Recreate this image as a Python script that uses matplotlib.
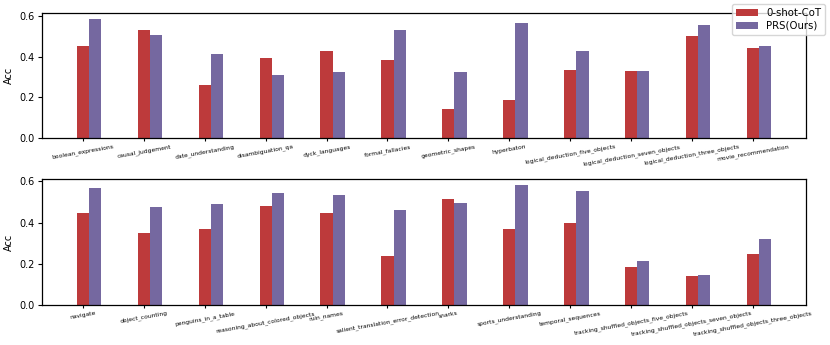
import matplotlib
matplotlib.use("Agg")
import matplotlib.pyplot as plt
import numpy as np

tasks_top = ["boolean_expressions", "causal_judgement", "date_understanding", "disambiguation_qa",
             "dyck_languages", "formal_fallacies", "geometric_shapes", "hyperbaton",
             "logical_deduction_five_objects", "logical_deduction_seven_objects",
             "logical_deduction_three_objects", "movie_recommendation"]
cot_top = [0.452, 0.530, 0.263, 0.391, 0.428, 0.384, 0.143, 0.187, 0.336, 0.331, 0.500, 0.443]
prs_top = [0.584, 0.508, 0.415, 0.308, 0.323, 0.532, 0.324, 0.565, 0.430, 0.328, 0.555, 0.454]

tasks_bot = ["navigate", "object_counting", "penguins_in_a_table", "reasoning_about_colored_objects",
             "ruin_names", "salient_translation_error_detection", "snarks", "sports_understanding",
             "temporal_sequences", "tracking_shuffled_objects_five_objects",
             "tracking_shuffled_objects_seven_objects", "tracking_shuffled_objects_three_objects"]
cot_bot = [0.448, 0.352, 0.371, 0.479, 0.448, 0.240, 0.513, 0.368, 0.400, 0.184, 0.140, 0.247]
prs_bot = [0.569, 0.477, 0.490, 0.545, 0.532, 0.460, 0.494, 0.581, 0.556, 0.213, 0.148, 0.319]

series_names = ["0-shot-CoT", "PRS(Ours)"]
red = "#bd3a3b"
purple = "#7568a0"

fig = plt.figure(figsize=(8.3, 3.45), dpi=100)
ax1 = fig.add_axes([0.0506, 0.599, 0.9205, 0.363])
ax2 = fig.add_axes([0.0506, 0.116, 0.9205, 0.364])

w = 0.2
for ax, tasks, a, b in [(ax1, tasks_top, cot_top, prs_top), (ax2, tasks_bot, cot_bot, prs_bot)]:
    x = np.arange(len(tasks))
    ax.bar(x, a, width=w, color=red, label=series_names[0])
    ax.bar(x + w, b, width=w, color=purple, label=series_names[1])
    ax.set_xticks(x)
    ax.set_xticklabels(tasks, rotation=10, fontsize=4.3, ha="center")
    ax.set_ylabel("Acc", fontsize=7)
    ax.set_yticks([0.0, 0.2, 0.4, 0.6])
    ax.tick_params(axis="y", labelsize=7, length=3, width=0.8, pad=2)
    ax.tick_params(axis="x", length=2, width=0.8, pad=2)
    for s in ax.spines.values():
        s.set_linewidth(0.9)

h, l = ax1.get_legend_handles_labels()
fig.legend(h, l, loc="upper right", bbox_to_anchor=(0.997, 0.995), fontsize=7.3,
           handlelength=2.2, borderpad=0.4, labelspacing=0.3, handletextpad=0.8, borderaxespad=0.2)

fig.savefig("out.png", dpi=100)
